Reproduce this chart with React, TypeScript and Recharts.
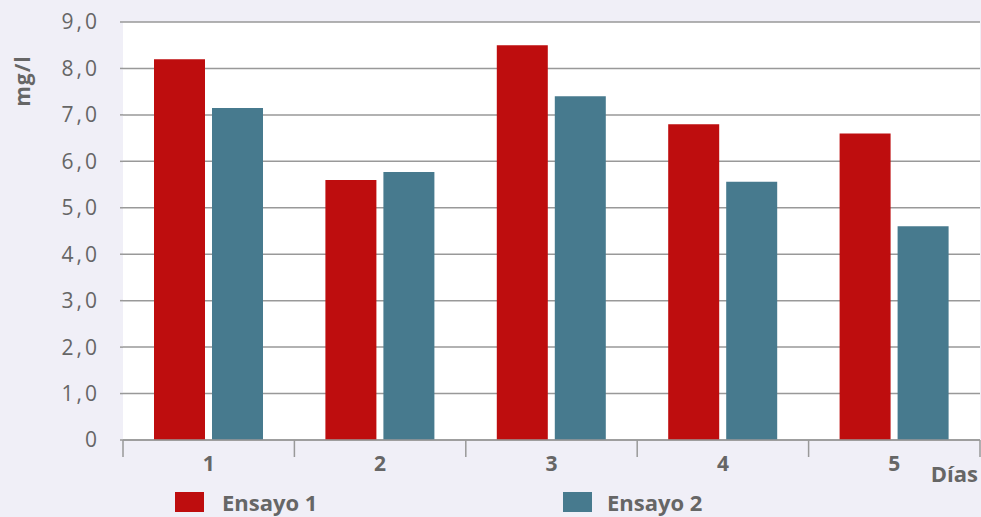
import React from 'react'
import { BarChart, Bar, XAxis, YAxis, CartesianGrid } from 'recharts'

const days = ['1', '2', '3', '4', '5']
const ensayo1 = [8.2, 5.6, 8.5, 6.8, 6.6]
const ensayo2 = [7.15, 5.77, 7.4, 5.56, 4.6]
const yTicks = [0, 1, 2, 3, 4, 5, 6, 7, 8, 9]

const series = [
  { key: 'ensayo1', name: 'Ensayo 1', color: '#BE0D0E' },
  { key: 'ensayo2', name: 'Ensayo 2', color: '#477A8E' },
]

const data = days.map((d, i) => ({ dia: d, ensayo1: ensayo1[i], ensayo2: ensayo2[i] }))

const FONT = '"Open Sans", "Noto Sans", sans-serif'
const TEXT = '#666666'
const GRID = '#999999'

const formatY = (v: number) => (v === 0 ? '0' : v.toFixed(1).replace('.', ','))

// category label plus the separator ticks at the band edges
const DayTick = (props: any) => {
  const { x, y, payload, index, visibleTicksCount, width } = props
  const half = payload.offset || width / visibleTicksCount / 2
  const last = index === visibleTicksCount - 1
  return (
    <g>
      <line x1={x - half} x2={x - half} y1={y} y2={y + 17} stroke={GRID} strokeWidth={1.5} />
      {last && <line x1={x + half} x2={x + half} y1={y} y2={y + 17} stroke={GRID} strokeWidth={1.5} />}
      <text x={x} y={y + 31} textAnchor="middle" fontFamily={FONT} fontSize={21} fontWeight={700} fill={TEXT}>
        {payload.value}
      </text>
    </g>
  )
}

const renderDias = (props: any) => {
  const { viewBox } = props
  return (
    <text x={viewBox.x + viewBox.width - 2} y={viewBox.y + 42} textAnchor="end"
      fontFamily={FONT} fontSize={22} fontWeight={700} fill={TEXT}>
      Días
    </text>
  )
}

const renderUnit = () => (
  <text x={30} y={81} transform="rotate(-90 30 81)" textAnchor="middle"
    fontFamily={FONT} fontSize={21} fontWeight={700} fill={TEXT} letterSpacing={1}>
    mg/l
  </text>
)

export default function App() {
  return (
    <div style={{ position: 'relative', width: 981, height: 517, background: '#F0EFF7', overflow: 'hidden' }}>
      <style>{'body{margin:0}'}</style>
      <BarChart width={981} height={517} data={data}
        margin={{ top: 22, right: 1, left: 0, bottom: 35 }}
        barCategoryGap={31} barGap={7}>
        <CartesianGrid horizontal vertical={false} fill="#ffffff" stroke={GRID} strokeWidth={1.5} />
        <XAxis dataKey="dia" height={42} tickSize={0} tickMargin={0} tickLine={false}
          axisLine={{ stroke: GRID, strokeWidth: 1.5 }} tick={<DayTick />} interval={0}
          label={renderDias} />
        <YAxis width={123} domain={[0, 9]} ticks={yTicks} interval={0} tickFormatter={formatY}
          axisLine={false} tickSize={3} tickMargin={20} tickLine={{ stroke: GRID, strokeWidth: 1.5 }}
          tick={{ fontFamily: FONT, fontSize: 21, fill: TEXT, letterSpacing: 3 }}
          label={renderUnit} />
        {series.map((s) => (
          <Bar key={s.key} dataKey={s.key} name={s.name} fill={s.color} isAnimationActive={false} />
        ))}
      </BarChart>
      {series.map((s, i) => (
        <div key={s.key} style={{ position: 'absolute', top: 489, left: i === 0 ? 175 : 563, display: 'flex', alignItems: 'center' }}>
          <span style={{ display: 'inline-block', width: 29, height: 20, background: s.color }} />
          <span style={{ marginLeft: i === 0 ? 18 : 15, fontFamily: FONT, fontSize: 22, fontWeight: 700, color: TEXT, lineHeight: '26px' }}>
            {s.name}
          </span>
        </div>
      ))}
    </div>
  )
}
